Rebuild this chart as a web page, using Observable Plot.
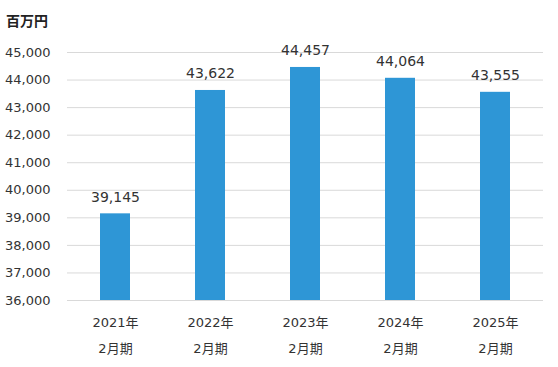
<!DOCTYPE html>
<html><head><meta charset="utf-8">
<script src="https://cdn.jsdelivr.net/npm/d3@7"></script>
<script src="https://cdn.jsdelivr.net/npm/@observablehq/plot@0.6"></script>
<style>
body{margin:0;background:#fff;}
#wrap{position:relative;width:558px;height:367px;}
#title{position:absolute;left:6px;top:10px;font:bold 14px "Noto Sans CJK JP";color:#222;}
</style></head>
<body><div id="wrap"><div id="title">百万円</div></div>
<script>
const years = ["2021年","2022年","2023年","2024年","2025年"];
const periods = ["2月期","2月期","2月期","2月期","2月期"];
const values = [39145, 43622, 44457, 44064, 43555];
const yTicks = [36000,37000,38000,39000,40000,41000,42000,43000,44000,45000];

const data = years.map((y,i)=>({year:y, period:periods[i], value:values[i]}));
const fmt = d3.format(",");

const chart = Plot.plot({
  width: 558, height: 367,
  marginTop: 52, marginBottom: 67, marginLeft: 67, marginRight: 15,
  style: {fontFamily: "DejaVu Sans, 'Noto Sans CJK JP'", fontSize: "13px", color: "#333"},
  x: {domain: years, paddingInner: 0.686, paddingOuter: 0.335, axis: null},
  y: {domain: [36000, 45000], ticks: yTicks, tickFormat: fmt, label: null},
  marks: [
    Plot.gridY(yTicks, {stroke: "#d9d9d9", strokeOpacity: 1}),
    Plot.axisY(yTicks, {tickSize: 0, tickPadding: 17, tickFormat: fmt, fontSize: 13, fill: "#333", label: null}),
    Plot.barY(data, {x: "year", y1: 36000, y2: "value", fill: "#2E96D6"}),
    Plot.text(data, {x: "year", y: "value", text: d => fmt(d.value), dy: -12, lineAnchor: "bottom", fontSize: 14, fill: "#333"}),
    Plot.text(data, {x: "year", text: "year", frameAnchor: "bottom", dy: 22, lineAnchor: "middle", fontSize: 13, fill: "#333"}),
    Plot.text(data, {x: "year", text: "period", frameAnchor: "bottom", dy: 48, lineAnchor: "middle", fontSize: 13, fill: "#333"})
  ]
});
document.getElementById("wrap").appendChild(chart);
</script></body></html>
